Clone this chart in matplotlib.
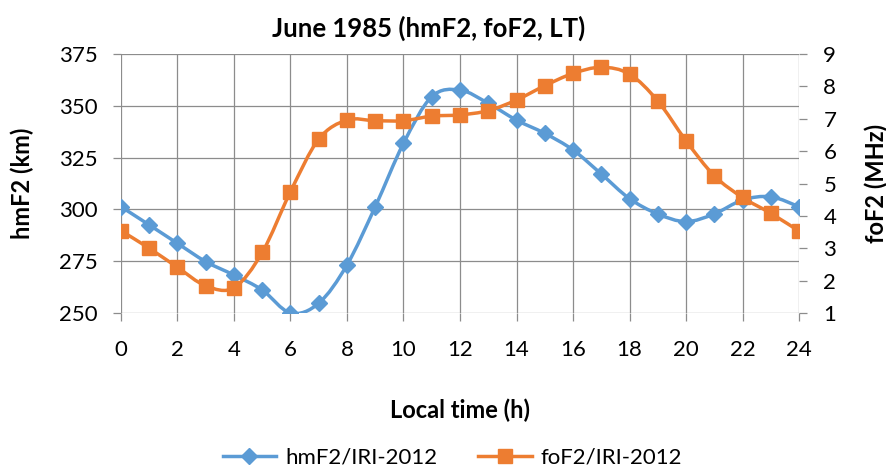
import numpy as np
import matplotlib
matplotlib.use("Agg")
import matplotlib.pyplot as plt
from matplotlib.path import Path
from matplotlib.patches import PathPatch
from matplotlib.lines import Line2D

plt.rcParams['font.family'] = ['Lato', 'DejaVu Sans']

hours = list(range(25))
hmf2 = [301.3, 292.5, 283.6, 274.8, 268.3, 261.1, 250.0, 254.7, 273.2, 301.3,
        331.9, 354.4, 357.6, 351.2, 343.1, 336.7, 328.7, 317.1, 305.2, 297.8,
        294.1, 297.8, 304.5, 306.1, 301.3]
fof2 = [3.54, 3.00, 2.41, 1.84, 1.78, 2.87, 4.75, 6.37, 6.96, 6.94,
        6.94, 7.08, 7.12, 7.25, 7.58, 8.02, 8.40, 8.59, 8.38, 7.55,
        6.32, 5.24, 4.57, 4.08, 3.53]

blue = '#5B9BD5'
orange = '#ED7D31'
grid = '#8C8C8C'


def smooth_path(x, y):
    # Excel-like smoothed line: cubic Bezier segments through the points
    x = np.asarray(x, float)
    y = np.asarray(y, float)
    n = len(x)
    verts = [(x[0], y[0])]
    codes = [Path.MOVETO]
    for i in range(n - 1):
        i0 = max(i - 1, 0)
        i3 = min(i + 2, n - 1)
        c1 = (x[i] + (x[i + 1] - x[i0]) / 6, y[i] + (y[i + 1] - y[i0]) / 6)
        c2 = (x[i + 1] - (x[i3] - x[i]) / 6, y[i + 1] - (y[i3] - y[i]) / 6)
        verts += [c1, c2, (x[i + 1], y[i + 1])]
        codes += [Path.CURVE4] * 3
    return Path(verts, codes)


fig = plt.figure(figsize=(8.87, 4.73), dpi=100)
ax = fig.add_axes([0.1364, 0.3383, 0.7644, 0.5475])
ax2 = ax.twinx()

ax.set_xlim(0, 24)
ax.set_ylim(250, 375)
ax2.set_ylim(1, 9)
ax.set_xticks(range(0, 25, 2))
ax.set_yticks(range(250, 376, 25))
ax2.set_yticks(range(1, 10))

ax.grid(True, color=grid, linewidth=0.9)
ax.set_axisbelow(True)
for a in (ax, ax2):
    for s in a.spines.values():
        s.set_visible(False)
    a.tick_params(colors=grid, labelcolor='black', labelsize=16, length=5.5, width=0.9)
ax.tick_params(axis='x', pad=14)
ax.tick_params(axis='y', pad=11)
ax2.tick_params(axis='y', pad=12)

ax.add_patch(PathPatch(smooth_path(hours, hmf2), fill=False, edgecolor=blue,
                       linewidth=2.5, zorder=3))
ax.plot(hours, hmf2, linestyle='none', marker='D', markersize=8, color=blue, zorder=4)
ax2.add_patch(PathPatch(smooth_path(hours, fof2), fill=False, edgecolor=orange,
                        linewidth=2.5, zorder=3))
ax2.plot(hours, fof2, linestyle='none', marker='s', markersize=9.5, color=orange, zorder=4)

fig.text(0.4837, 1 - 28 / 473, 'June 1985 (hmF2, foF2, LT)', fontsize=18.5,
         fontweight='bold', ha='center', va='center')
ax.set_xlabel('Local time (h)', fontsize=17, fontweight='bold')
ax.set_ylabel('hmF2 (km)', fontsize=17, fontweight='bold')
ax2.set_ylabel('foF2 (MHz)', fontsize=17, fontweight='bold')
ax.xaxis.set_label_coords(0.5, -0.3745)
ax.xaxis.label.set_va('center')
ax.yaxis.set_label_coords(-0.146, 0.5)
ax.yaxis.label.set_va('center')
ax2.yaxis.set_label_coords(1.1136, 0.5)
ax2.yaxis.label.set_va('center')

handles = [Line2D([], [], color=blue, marker='D', markersize=8, linewidth=2.5),
           Line2D([], [], color=orange, marker='s', markersize=9.5, linewidth=2.5)]
fig.legend(handles, ['hmF2/IRI-2012', 'foF2/IRI-2012'], loc='center',
           bbox_to_anchor=(0.51, 0.032), ncol=2, frameon=False, fontsize=16,
           handlelength=2.4, handletextpad=0.4, columnspacing=1.85)

fig.savefig('out.png', dpi=100)
